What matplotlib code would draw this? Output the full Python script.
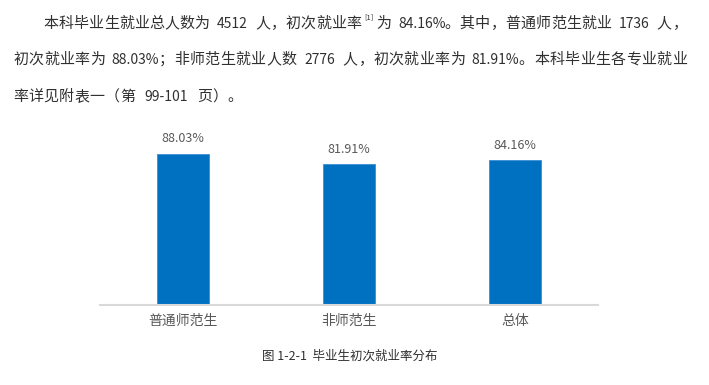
import matplotlib
matplotlib.use("Agg")
import matplotlib.pyplot as plt
import re

plt.rcParams['font.family'] = ['Noto Sans CJK SC', 'DejaVu Sans']

categories = ['普通师范生', '非师范生', '总体']
rates = [88.03, 81.91, 84.16]

para_line1 = [('本科毕业生就业总人数为 4512 人，初次就业率', False), ('[1]', True),
              ('为 84.16%。其中，普通师范生就业 1736 人，', False)]
para_line2 = [('初次就业率为 88.03%；非师范生就业人数 2776 人，初次就业率为 81.91%。本科毕业生各专业就业', False)]
para_line3 = [('率详见附表一（第 99-101 页）。', False)]
caption = '图 1-2-1  毕业生初次就业率分布'

W, H = 709, 385
fig = plt.figure(figsize=(W / 100, H / 100), dpi=100)
fig.patch.set_facecolor('white')


def px(x, y):
    return x / W, 1 - y / H


def units(tok, sup):
    if sup:
        return 0.33 * len(tok)
    return sum(1.0 if ord(c) > 255 else 0.5 for c in tok)


# lay the paragraph out on a full/half width grid like the source document:
# each CJK character gets one cell, runs of latin text get half a cell per char
def draw_line(segments, x0, y, x1=None, cell=15.3):
    toks = []
    for t, s in segments:
        if s:
            toks.append((t, s))
        else:
            toks += [(m, s) for m in re.findall(r'[\x00-\xff]+|[^\x00-\xff]', t)]
    total = sum(units(t, s) for t, s in toks)
    if x1 is not None:
        cell = (x1 - x0) / total
    x = x0
    for t, s in toks:
        w = units(t, s) * cell
        if s:
            fig.text(*px(x + w / 2, y - 7), t, ha='center', va='center',
                     fontsize=5.5, color='#303030')
        elif ord(t[0]) > 255:
            fig.text(*px(x + w / 2, y), t, ha='center', va='center',
                     fontsize=10.8, color='#303030')
        else:
            lead = len(t) - len(t.lstrip(' '))
            core = t.strip(' ')
            cx = x + (lead + len(core) / 2) * cell * 0.5
            fig.text(*px(cx, y), core, ha='center', va='center',
                     fontsize=10, color='#303030')
        x += w


draw_line(para_line1, 43, 24, x1=687)
draw_line(para_line2, 13, 60, x1=687)
draw_line(para_line3, 13, 97)

# bar chart
ax = fig.add_axes([100 / W, 1 - 304.5 / H, 498 / W, 171.5 / H])
x = range(len(categories))
bars = ax.bar(x, rates, width=0.31, color='#0070c0', edgecolor='#3a8fd0', linewidth=0.6)
ax.set_ylim(0, 100)
ax.set_xlim(-0.5, len(categories) - 0.5)

for b, v in zip(bars, rates):
    ax.text(b.get_x() + b.get_width() / 2, v + 8.7, f'{v:.2f}%',
            ha='center', va='center', fontsize=9, color='#595959')

ax.set_xticks(list(x))
ax.set_xticklabels(categories, fontsize=10, color='#595959')
ax.tick_params(axis='x', length=0, pad=7)
ax.set_yticks([])
for s in ['top', 'right', 'left']:
    ax.spines[s].set_visible(False)
ax.spines['bottom'].set_color('#d9d9d9')
ax.spines['bottom'].set_linewidth(1.5)

fig.text(*px(350, 356), caption, ha='center', fontsize=9, color='#303030', va='center')

fig.savefig('out.png', dpi=100)
